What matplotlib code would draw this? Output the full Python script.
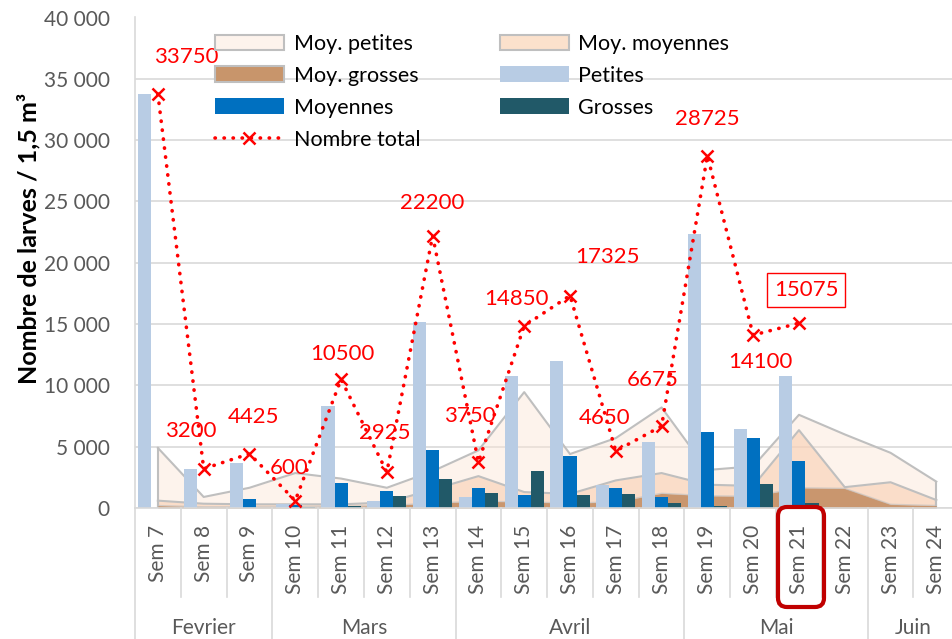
import matplotlib
matplotlib.use('Agg')
import matplotlib.pyplot as plt
import matplotlib.transforms as mtransforms
from matplotlib.patches import FancyBboxPatch, Patch
from matplotlib.lines import Line2D
import numpy as np

plt.rcParams['font.family'] = ['Lato', 'DejaVu Sans']

# --- data ---
weeks = [f'Sem {w}' for w in range(7, 25)]
months = ['Fevrier', 'Mars', 'Avril', 'Mai', 'Juin']
month_sizes = [3, 4, 5, 4, 2]

# averages (areas), Sem 7 .. Sem 24
moy_petites = [4900, 900, 1650, 2850, 2400, 1650, 3000, 4700, 9450, 4400,
               5700, 8200, 3100, 3400, 7600, 6000, 4500, 2150]
moy_moyennes = [600, 350, 300, 300, 300, 450, 1500, 2600, 1300, 1150,
                2250, 2850, 1900, 1800, 6350, 1700, 2100, 650]
moy_grosses = [200, 100, 100, 100, 150, 200, 400, 550, 500, 400,
               500, 1200, 1000, 950, 1650, 1600, 300, 200]

# counts (bars + total), Sem 7 .. Sem 21
petites = [33750, 3200, 3700, 300, 8325, 600, 15150, 900, 10800, 12000,
           1900, 5375, 22375, 6450, 10800]
moyennes = [0, 0, 725, 250, 2000, 1350, 4725, 1600, 1050, 4250,
            1600, 900, 6200, 5700, 3850]
grosses = [0, 0, 0, 50, 175, 975, 2325, 1250, 3000, 1075,
           1150, 400, 150, 1950, 425]
total = [33750, 3200, 4425, 600, 10500, 2925, 22200, 3750, 14850, 17325,
         4650, 6675, 28725, 14100, 15075]

# label offsets in pixels (dx right, dy down) relative to the marker
label_offsets = [(28, -37), (-13, -38), (4, -37), (-6, -33), (1, -25),
                 (-2, -39), (0, -33), (-9, -46), (-8, -27), (37, -39),
                 (-11, -33), (-9, -46), (0, -37), (7, 27), (7, -33)]

W, H = 953, 639
fig = plt.figure(figsize=(W / 100, H / 100), dpi=100)
ax = fig.add_axes([135 / W, 1 - 508 / H, (W - 135) / W, (508 - 17.5) / H])

x_all = np.arange(len(weeks))
x_cnt = np.arange(len(total))

edge = '#BFBFBF'
ax.fill_between(x_all, moy_petites, color='#FBE5D6', alpha=0.45, lw=0, zorder=1)
ax.plot(x_all, moy_petites, color=edge, lw=1.5, zorder=1.1)
ax.fill_between(x_all, moy_moyennes, color='#F8CBAD', alpha=0.55, lw=0, zorder=1.2)
ax.plot(x_all, moy_moyennes, color=edge, lw=1.5, zorder=1.3)
ax.fill_between(x_all, moy_grosses, color='#C18A5E', alpha=0.85, lw=0, zorder=1.4)
ax.plot(x_all, moy_grosses, color=edge, lw=1.0, alpha=0.6, zorder=1.5)
# vertical edges at both ends of the areas
for s in (moy_petites, moy_moyennes):
    ax.plot([x_all[0], x_all[0]], [0, s[0]], color=edge, lw=1.5, zorder=1.3)
    ax.plot([x_all[-1], x_all[-1]], [0, s[-1]], color=edge, lw=1.5, zorder=1.3)

bw = 0.285
ax.bar(x_cnt - bw, petites, bw, color='#B8CCE4', zorder=2)
ax.bar(x_cnt, moyennes, bw, color='#0070C0', zorder=2)
ax.bar(x_cnt + bw, grosses, bw, color='#215968', zorder=2)

ax.plot(x_cnt, total, color='red', lw=2.6, linestyle=(0, (0.1, 2.4)),
        dash_capstyle='round', marker='x', markersize=9, mew=1.8, zorder=3)

for i, (v, (dx, dy)) in enumerate(zip(total, label_offsets)):
    kw = {}
    if i == len(total) - 1:
        kw['bbox'] = dict(boxstyle='square,pad=0.3', fc='none', ec='red', lw=1)
    ax.annotate(str(v), (i, v), xytext=(dx * 0.72, -dy * 0.72),
                textcoords='offset points', ha='center', va='center',
                color='red', fontsize=16, zorder=4, **kw)

ax.set_xlim(-0.5, -0.5 + (W - 135) / 45.79)
ax.set_ylim(0, 40000)
ax.set_yticks(np.arange(0, 40001, 5000))
ax.set_yticklabels([f'{v:,}'.replace(',', ' ') for v in range(0, 40001, 5000)])
ax.set_xticks(x_all)
ax.set_xticklabels(weeks, rotation=90, va='top', ha='center')
ax.tick_params(axis='y', length=0, pad=18, labelsize=15, labelcolor='#595959')
ax.tick_params(axis='x', length=0, pad=12, labelsize=15, labelcolor='#595959')
ax.grid(axis='y', color='#D9D9D9', lw=1.2, zorder=0)
ax.set_axisbelow(True)
for side in ('top', 'right'):
    ax.spines[side].set_visible(False)
for side in ('left', 'bottom'):
    ax.spines[side].set_color('#D9D9D9')
    ax.spines[side].set_linewidth(1.2)

ax.set_ylabel('Nombre de larves / 1,5 m³', fontsize=18, fontweight='bold')
ax.yaxis.set_label_coords(-(135 - 40) / (W - 135), 0.55)

# category separators and month groups under the axis
trans = mtransforms.blended_transform_factory(ax.transData, ax.transAxes)
ah = 508 - 17.5
bounds = np.cumsum([0] + month_sizes)
for k in range(len(weeks) + 1):
    y_end = -(H - 508) / ah if k in bounds else -(597 - 508) / ah
    ax.plot([k - 0.5, k - 0.5], [0, y_end], transform=trans, clip_on=False,
            color='#D9D9D9', lw=1.2)
for m, start, size in zip(months, bounds[:-1], month_sizes):
    ax.text(start + size / 2 - 0.5, -(628 - 508) / ah, m, transform=trans,
            ha='center', va='center', fontsize=15, color='#595959')

# highlight Sem 21
box = FancyBboxPatch((778, H - 607), 46, 100, boxstyle='round,pad=0,rounding_size=9',
                     transform=mtransforms.IdentityTransform(), fc='none',
                     ec='#C00000', lw=3)
fig.add_artist(box)

handles = [
    Patch(fc='#FDF3EC', ec=edge, lw=1.5, label='Moy. petites'),
    Patch(fc='#C8956B', ec=edge, lw=1.5, label='Moy. grosses'),
    Patch(fc='#0070C0', label='Moyennes'),
    Line2D([], [], color='red', lw=2.6, linestyle=(0, (0.1, 2.4)),
           dash_capstyle='round', marker='x', markersize=9, mew=1.8,
           label='Nombre total'),
    Patch(fc='#FBE1CC', ec=edge, lw=1.5, label='Moy. moyennes'),
    Patch(fc='#B8CCE4', label='Petites'),
    Patch(fc='#215968', label='Grosses'),
]
fig.legend(handles=handles, ncol=2, loc='upper left',
           bbox_to_anchor=(215 / W, 1 - 34 / H), frameon=False, fontsize=15.5,
           borderpad=0, borderaxespad=0, handlelength=3.2, handleheight=0.75,
           handletextpad=0.45, labelspacing=0.55, columnspacing=3.7)

fig.savefig('out.png', dpi=100)
